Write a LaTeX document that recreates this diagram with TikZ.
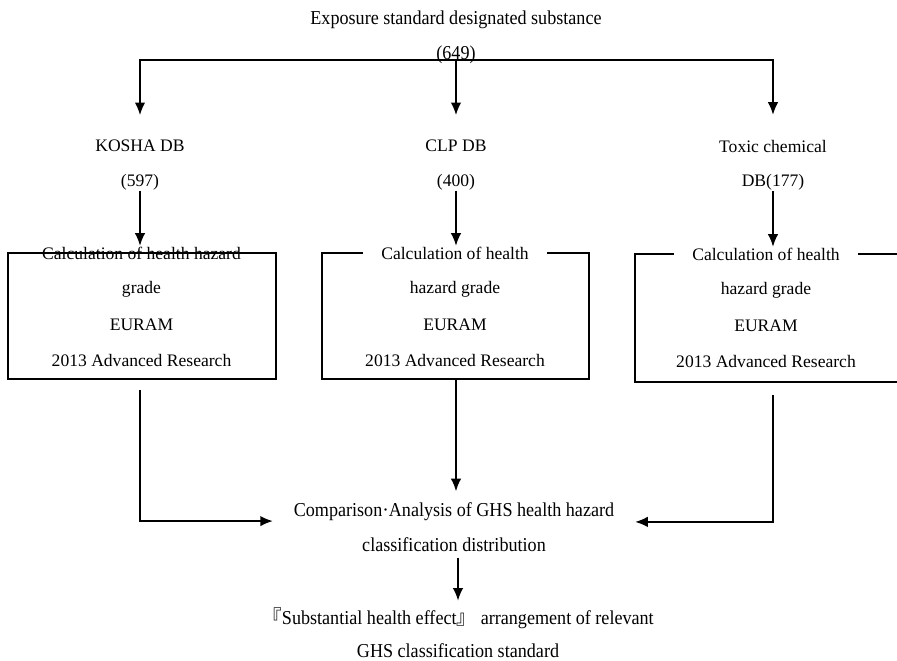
\documentclass[tikz,border=0pt]{standalone}
\usepackage{fontspec}
\setmainfont{Liberation Serif}
\newfontfamily\tallfont[FakeStretch=0.92]{Liberation Serif}
\newfontfamily\cjkfont{Noto Sans CJK JP}
\usetikzlibrary{arrows.meta,positioning}

\begin{document}
\begin{tikzpicture}[
  line width=1.3pt,
  arr/.style={-{Latex[length=9pt,width=7.5pt]}},
  lbl/.style={align=center, inner sep=0pt, font=\fontsize{12.5}{24.5}\selectfont},
  big/.style={align=center, inner sep=0pt, font=\tallfont\fontsize{14}{24.8}\selectfont},
  body/.style={lbl, font=\fontsize{12.5}{26.2}\selectfont},
  head/.style={lbl, fill=white, inner xsep=0.47cm},
  box/.style={draw, inner sep=0pt}
]
\useasboundingbox (0,0) rectangle (22.425,16.5);

% source set
\node [big] (src) at (11.4,15.57) {Exposure standard designated substance\\(649)};
\coordinate (split) at (11.4,15.0);

% the three data bases
\node [lbl] (kosha) at (3.5,12.375) {KOSHA DB\\(597)};
\node [lbl] (clp) at (11.4,12.375) {CLP DB\\(400)};
\node [lbl] (toxic) at (19.325,12.375) {Toxic chemical\\DB(177)};

\draw [arr] (split) -| ([yshift=0.6cm]kosha.north);
\draw [arr] (split) -- ([yshift=0.6cm]clp.north);
\draw [arr] (split) -| ([yshift=0.6cm]toxic.north);

% grade boxes
\node [box, minimum width=6.7cm, minimum height=3.15cm] (box1) at (3.55,8.6) {};
\node [lbl] (head1) at (3.5375,10.175) {Calculation of health hazard};
\node [body] (body1) at (3.5375,8.4) {grade\\EURAM\\2013 Advanced Research};

\node [box, minimum width=6.675cm, minimum height=3.15cm] (box2) at (11.3875,8.6) {};
\node [head] (head2) at (11.375,10.175) {Calculation of health};
\node [body] (body2) at (11.375,8.4) {hazard grade\\EURAM\\2013 Advanced Research};

\node [box, minimum width=7.125cm, minimum height=3.2cm] (box3) at (19.4375,8.55) {};
\node [head] (head3) at (19.15,10.15) {Calculation of health};
\node [body] (body3) at (19.15,8.375) {hazard grade\\EURAM\\2013 Advanced Research};

\draw [arr] (kosha.south) -- (kosha.south |- head1.north);
\draw [arr] (clp.south) -- (clp.south |- head2.north);
\draw [arr] (toxic.south) -- (toxic.south |- head3.north);

% comparison and result
\node [big, inner xsep=0.5cm] (cmp) at (11.35,3.3125) {Comparison{\fontspec{Liberation Serif}·}Analysis of GHS health hazard\\classification distribution};
\node [big, inner ysep=0.15cm, font=\tallfont\fontsize{14}{23.8}\selectfont] (result) at (11.45,0.68) {{\cjkfont 『}Substantial health effect{\cjkfont 』} arrangement of relevant\\GHS classification standard};

\draw [arr] ([yshift=-0.25cm]kosha.south |- box1.south) |- ([yshift=0.16cm]cmp.west);
\draw [arr] (clp |- box2.south) -- ([yshift=0.27cm]clp |- cmp.north);
\draw [arr] ([yshift=-0.3cm]toxic.south |- box3.south) |- ([yshift=0.14cm]cmp.east);
\draw [arr] ([yshift=-0.12cm]cmp.south -| result) -- (result.north);
\end{tikzpicture}
\end{document}
